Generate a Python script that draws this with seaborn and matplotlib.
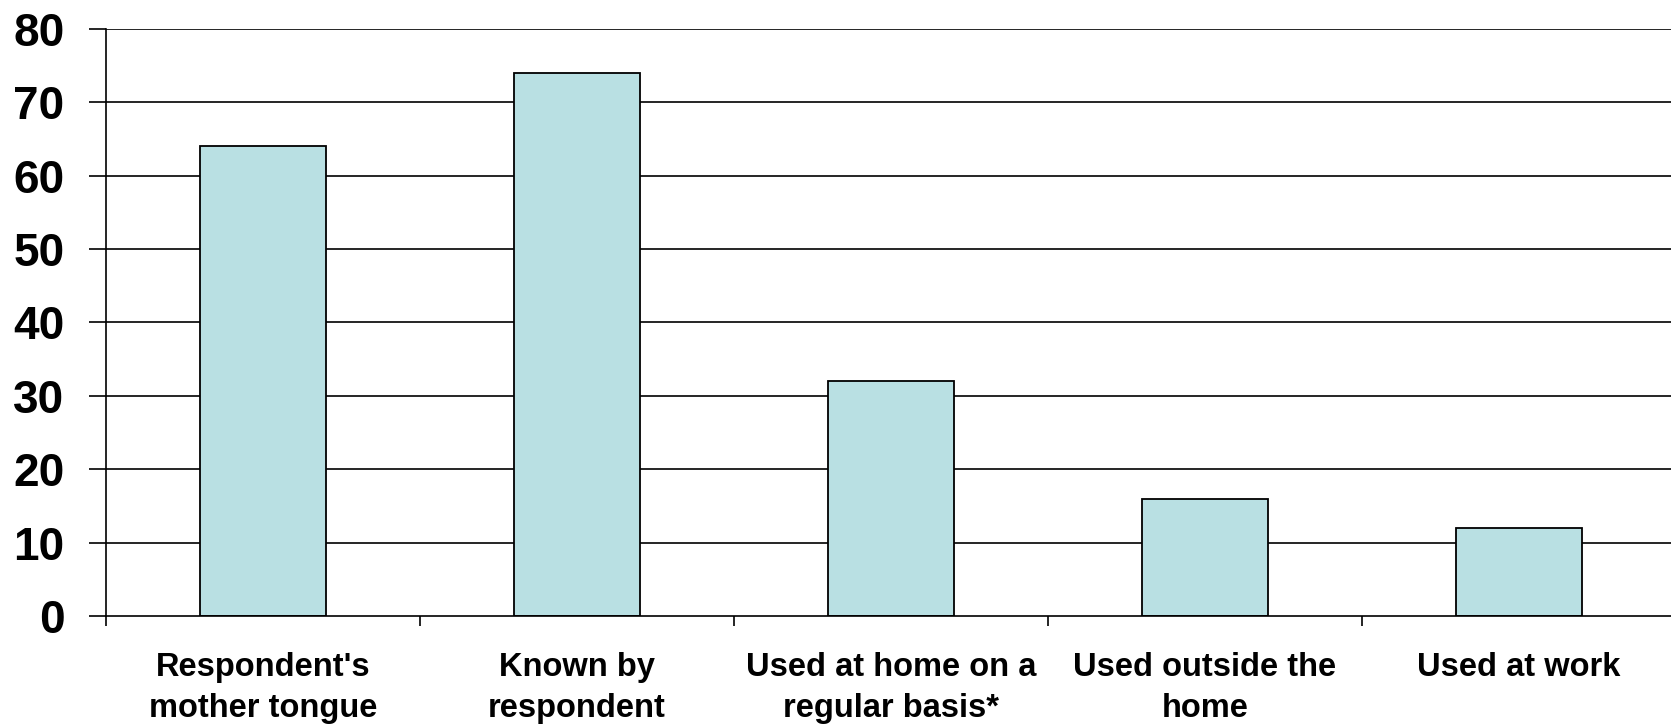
import matplotlib
matplotlib.use("Agg")
import matplotlib.pyplot as plt
import seaborn as sns
import pandas as pd
import numpy as np

categories = [
    "Respondent's\nmother tongue",
    "Known by\nrespondent",
    "Used at home on a\nregular basis*",
    "Used outside the\nhome",
    "Used at work",
]
values = [64, 74, 32, 16, 12]
y_ticks = [0, 10, 20, 30, 40, 50, 60, 70, 80]

sns.set_theme(style="white")
plt.rcParams["font.family"] = ["Liberation Sans", "DejaVu Sans"]
plt.rcParams["font.weight"] = "bold"
plt.rcParams["text.color"] = "black"
plt.rcParams["xtick.color"] = "black"
plt.rcParams["ytick.color"] = "black"
plt.rcParams["xtick.labelcolor"] = "black"
plt.rcParams["ytick.labelcolor"] = "black"

df = pd.DataFrame({"category": categories, "value": values})

fig = plt.figure(figsize=(16.71, 7.25), dpi=100)
ax = fig.add_axes([0.0634, 0.150, 0.9396, 0.8104])

# horizontal gridlines behind the bars
for t in y_ticks[1:]:
    ax.axhline(t, color="black", lw=1.2, zorder=0)

sns.barplot(data=df, x="category", y="value", color="#B9E0E3", saturation=1,
            edgecolor="black", linewidth=1.3, width=0.4, ax=ax, zorder=2)

ax.set_ylim(0, 80)
ax.set_xlim(-0.5, len(categories) - 0.5)
ax.set_xlabel("")
ax.set_ylabel("")

ax.set_yticks(y_ticks)
ax.set_yticklabels([str(t) for t in y_ticks], fontsize=33, fontweight="bold",
                   color="black")
ax.tick_params(axis="y", direction="out", length=12, width=1.2, color="black",
               left=True, pad=18)

# category boundaries carry the ticks; labels sit at the category centres
ax.set_xticks(np.arange(-0.5, len(categories), 1.0))
ax.set_xticklabels([])
ax.tick_params(axis="x", which="major", direction="out", length=7, width=1.2,
               color="black", bottom=True)
ax.set_xticks(np.arange(len(categories)), minor=True)
ax.set_xticklabels(categories, minor=True, fontsize=23.5, fontweight="bold",
                   linespacing=1.4, color="black")
ax.tick_params(axis="x", which="minor", length=0, pad=26)

for side in ["top", "right"]:
    ax.spines[side].set_visible(False)
ax.spines["left"].set_color("black")
ax.spines["left"].set_linewidth(1.2)
ax.spines["bottom"].set_color("black")
ax.spines["bottom"].set_linewidth(1.2)

fig.savefig("out.png", dpi=100)
